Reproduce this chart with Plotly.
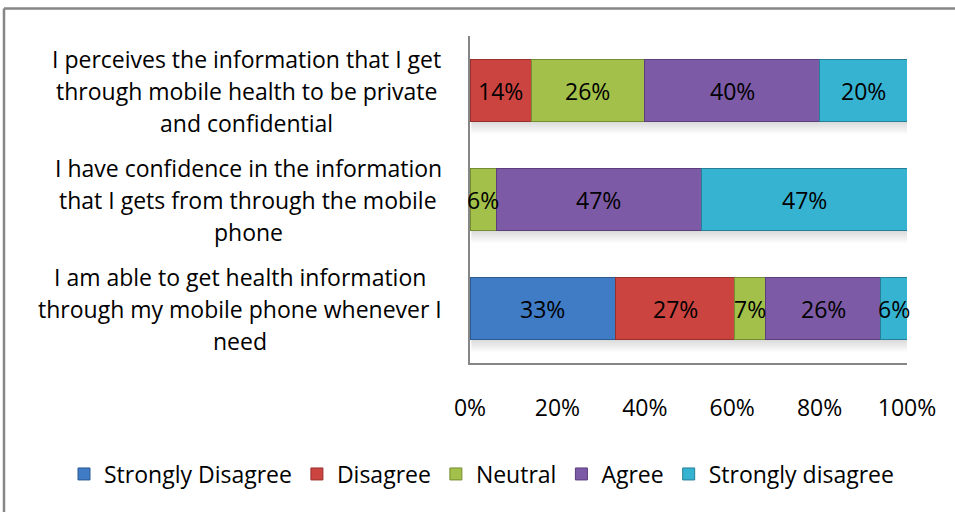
import plotly.graph_objects as go

# Survey statements, one list of wrapped lines per statement (bottom to top)
category_lines = [
    ["I am able to get health information",
     "through my mobile phone whenever I",
     "need"],
    ["I have confidence in the information",
     "that I gets from through the mobile",
     "phone"],
    ["I perceives the information that I get",
     "through mobile health to be private",
     "and confidential"],
]
categories = [" ".join(lines) for lines in category_lines]

# Response shares (%) per statement
strongly_disagree = [33, 0, 0]
disagree = [27, 0, 14]
neutral = [7, 6, 26]
agree = [26, 47, 40]
strongly_disagree_2 = [6, 47, 20]

series_names = ["Strongly Disagree", "Disagree", "Neutral", "Agree", "Strongly disagree"]
series_values = [strongly_disagree, disagree, neutral, agree, strongly_disagree_2]
series_colors = ["#3F7CC5", "#CC4440", "#A2C04A", "#7D5AA6", "#37B3D2"]
series_edges = ["#2C5A92", "#97302D", "#768E33", "#5A3F7B", "#267F96"]

x_tick_values = [0, 20, 40, 60, 80, 100]
x_tick_labels = ["0%", "20%", "40%", "60%", "80%", "100%"]

FONT = "Open Sans, Calibri, sans-serif"
SIZE = 23
BAR_GAP = 0.43

fig = go.Figure()
for name, vals, col, edge in zip(series_names, series_values, series_colors, series_edges):
    fig.add_trace(go.Bar(
        y=categories,
        x=vals,
        name=name,
        orientation="h",
        marker=dict(color=col, line=dict(color=edge, width=1)),
    ))

# Value labels centred on each stacked segment (rows are shown as 100% stacks)
annotations = []
row_totals = [sum(col) for col in zip(*series_values)]
for r, cat in enumerate(categories):
    start = 0.0
    for vals in series_values:
        v = vals[r]
        share = 100.0 * v / row_totals[r]
        if v:
            annotations.append(dict(
                text=f"{v}%", xref="x", yref="y",
                x=start + share / 2, y=cat,
                xanchor="center", yanchor="middle",
                showarrow=False,
                font=dict(family=FONT, size=SIZE, color="black"),
            ))
        start += share

# Plot area geometry (pixels) used to place the wrapped category labels
L, R, T, B = 470, 48, 36, 149
W, H = 955, 512
pw, ph = W - L - R, H - T - B

def px_x(p):
    return (p - L) / pw

def px_y(p):
    return (H - B - p) / ph

label_centers_px = [240, 248, 246]
line_step = 32
for cat, lines, cx in zip(categories, category_lines, label_centers_px):
    n = len(lines)
    for i, line in enumerate(lines):
        annotations.append(dict(
            text=line,
            xref="paper", yref="y",
            x=px_x(cx), y=cat,
            xanchor="center", yanchor="middle",
            yshift=((n - 1) / 2 - i) * line_step,
            showarrow=False,
            font=dict(family=FONT, size=SIZE, color="black"),
        ))

# Outer chart-area border (top and left edges visible)
shapes = [
    dict(type="line", xref="paper", yref="paper",
         x0=px_x(4), x1=px_x(960), y0=px_y(8.5), y1=px_y(8.5),
         line=dict(color="#868686", width=2.5)),
    dict(type="line", xref="paper", yref="paper",
         x0=px_x(4), x1=px_x(4), y0=px_y(8.5), y1=px_y(560),
         line=dict(color="#868686", width=2.5)),
]

# Soft drop shadow beneath each bar (stacked translucent strips)
unit_px = ph / len(categories)
half = (1 - BAR_GAP) / 2
for r in range(len(categories)):
    bottom = r - half
    for k in range(6):
        shapes.append(dict(
            type="rect", xref="x", yref="y", layer="below",
            x0=0.3, x1=100.2,
            y0=bottom - (k + 1) * 2 / unit_px, y1=bottom - k * 2 / unit_px,
            fillcolor="rgba(90,90,90,%.3f)" % (0.22 * (1 - k / 6)),
            line=dict(width=0),
        ))

fig.update_layout(
    width=W, height=H,
    margin=dict(l=L, r=R, t=T, b=B, autoexpand=False),
    barmode="stack",
    barnorm="percent",
    bargap=BAR_GAP,
    paper_bgcolor="white",
    plot_bgcolor="white",
    font=dict(family=FONT, size=SIZE, color="black"),
    xaxis=dict(
        range=[0, 100],
        tickvals=x_tick_values,
        ticktext=x_tick_labels,
        showgrid=False,
        zeroline=False,
        showline=True,
        linecolor="#868686",
        linewidth=2,
        ticks="",
        ticklabelstandoff=23,
        automargin=False,
        tickfont=dict(family=FONT, size=SIZE, color="black"),
    ),
    yaxis=dict(
        showticklabels=False,
        showgrid=False,
        zeroline=False,
        showline=True,
        linecolor="#868686",
        linewidth=2,
        ticks="",
        automargin=False,
    ),
    legend=dict(
        orientation="h",
        x=px_x(64), xanchor="left",
        y=px_y(474), yanchor="middle",
        traceorder="normal",
        font=dict(family=FONT, size=SIZE, color="black"),
        itemclick=False,
    ),
    annotations=annotations,
    shapes=shapes,
    showlegend=True,
)

fig.write_html("out.html")
